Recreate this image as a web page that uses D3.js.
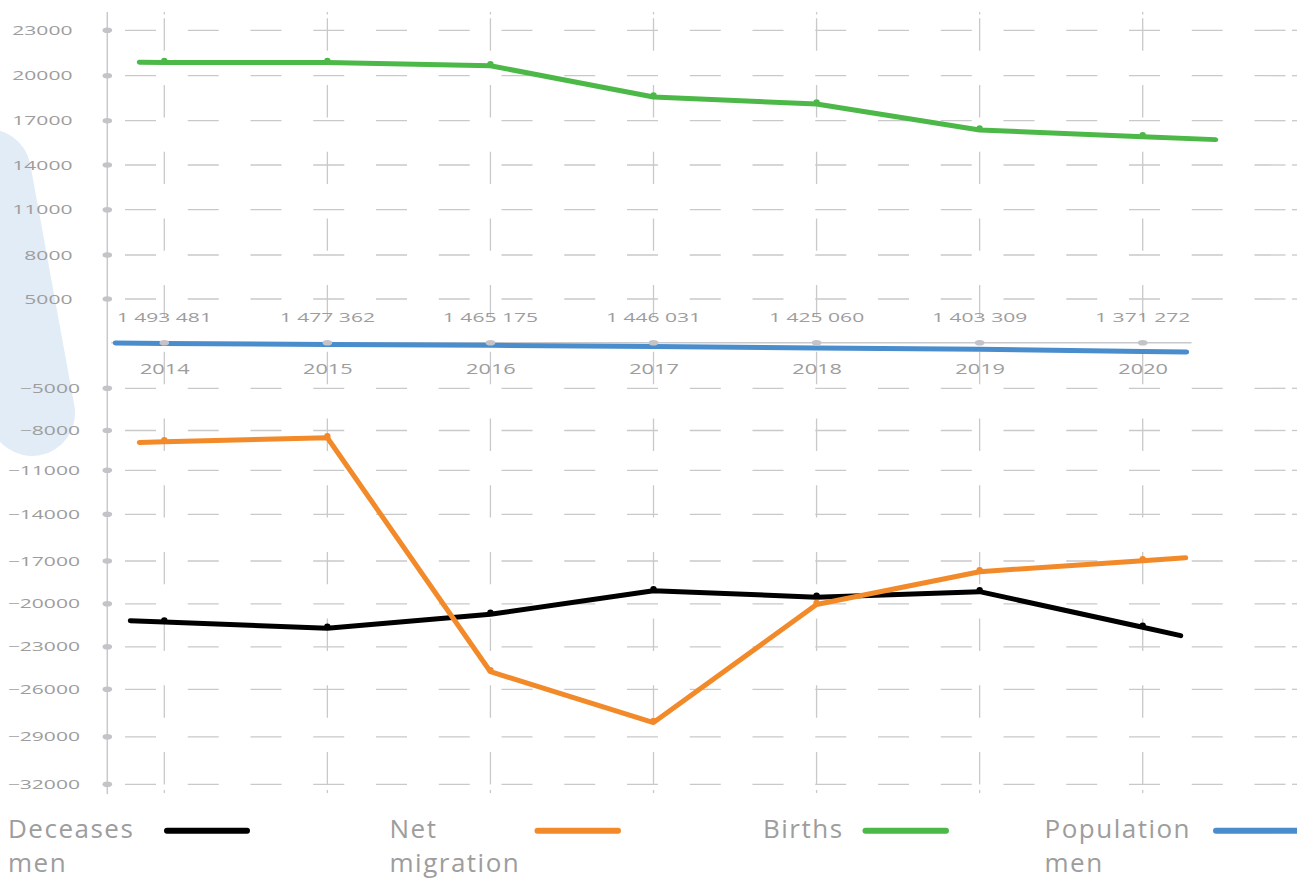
<!DOCTYPE html>
<html><head><meta charset="utf-8">
<script src="https://cdn.jsdelivr.net/npm/d3@7"></script>
<style>
body{margin:0;background:#fff}
svg{display:block}
text{font-family:'Open Sans',sans-serif}
</style>
</head><body><svg id="chart" width="1297" height="879"></svg>
<script>
// ---------- data ----------
const years = [2014, 2015, 2016, 2017, 2018, 2019, 2020];
const births = [20880, 20870, 20660, 18580, 18110, 16370, 15920];
const netMigration = [-8850, -8550, -24760, -28100, -20050, -17750, -16980];
const deceasesMen = [-21270, -21700, -20730, -19080, -19540, -19150, -21640];
const populationMen = [1493481, 1477362, 1465175, 1446031, 1425060, 1403309, 1371272];
const upperTicks = [23000, 20000, 17000, 14000, 11000, 8000, 5000];
const lowerTicks = [-5000, -8000, -11000, -14000, -17000, -20000, -23000, -26000, -29000, -32000];
const seriesNames = ["Deceases men", "Net migration", "Births", "Population men"];
const legendLines = [["Deceases", "men"], ["Net", "migration"], ["Births"], ["Population", "men"]];

// ---------- layout / style ----------
const W = 1297, H = 879;
const axisX = 107.3;
const tickYs = [30.3, 75.7, 120.7, 165, 209.7, 255, 299,
                388.3, 430.5, 470.3, 514.3, 561, 603.8, 646.8, 689.3, 736.8, 784.3];
const colors = {dec: "#000000", mig: "#f28a2a", births: "#4cb848", pop: "#4a8dcd"};
const grey = "#c9c9cc", textGrey = "#9d9d9d";
const ext = {births: [25, 73], mig: [25, 43], dec: [34, 38], pop: [49, 44]};
const legendPos = [
  {tx: 8, s0: 167, s1: 247},
  {tx: 389.5, s0: 537.5, s1: 618},
  {tx: 763, s0: 865.5, s1: 946},
  {tx: 1044.5, s0: 1216, s1: 1305}
];
const legendColors = [colors.dec, colors.mig, colors.births, colors.pop];

const svg = d3.select("#chart");
svg.append("rect").attr("width", W).attr("height", H).attr("fill", "#fff");

// decorative pale blue blob
svg.append("line").attr("x1", -12).attr("y1", 172).attr("x2", 32).attr("y2", 413)
  .attr("stroke", "#e2ecf6").attr("stroke-width", 86).attr("stroke-linecap", "round");

// ---------- scales ----------
const x = d3.scaleLinear().domain([years[0], years[years.length - 1]]).range([164.3, 1142.7]);
const y = d3.scaleLinear().domain(upperTicks.concat(lowerTicks)).range(tickYs);
const yPop = d3.scaleLinear().domain([d3.max(populationMen), d3.min(populationMen)]).range([343.4, 351.4]);
const allTicks = upperTicks.concat(lowerTicks);

// ---------- grid ----------
const grid = svg.append("g");
grid.selectAll("line.h").data(allTicks).join("line")
  .attr("x1", 125).attr("x2", 1290).attr("y1", d => y(d)).attr("y2", d => y(d))
  .attr("stroke", grey).attr("stroke-width", 1.3).attr("stroke-dasharray", "31 31.75");
grid.selectAll("line.r").data(allTicks).join("line")
  .attr("x1", 1292).attr("x2", 1297).attr("y1", d => y(d)).attr("y2", d => y(d))
  .attr("stroke", grey).attr("stroke-width", 1.3);
grid.selectAll("line.v").data(years).join("line")
  .attr("x1", d => x(d)).attr("x2", d => x(d)).attr("y1", 18.3).attr("y2", 790)
  .attr("stroke", grey).attr("stroke-width", 1.3).attr("stroke-dasharray", "32.4 34.3");
grid.selectAll("line.vt").data(years).join("line")
  .attr("x1", d => x(d)).attr("x2", d => x(d)).attr("y1", 12).attr("y2", 14.5)
  .attr("stroke", grey).attr("stroke-width", 1.3);
grid.selectAll("line.vb").data(years).join("line")
  .attr("x1", d => x(d)).attr("x2", d => x(d)).attr("y1", 790).attr("y2", 793)
  .attr("stroke", grey).attr("stroke-width", 1.3);

// ---------- left axis ----------
const ax = svg.append("g");
ax.append("line").attr("x1", axisX).attr("x2", axisX).attr("y1", 12).attr("y2", 794)
  .attr("stroke", grey).attr("stroke-width", 1.5);
ax.selectAll("ellipse").data(allTicks).join("ellipse")
  .attr("cx", axisX).attr("cy", d => y(d)).attr("rx", 4.8).attr("ry", 2.8).attr("fill", "#c4c4c8");
ax.selectAll("g.lbl").data(allTicks).join("g")
  .attr("transform", d => `translate(${d < 0 ? 80 : 72.5},${y(d) + 4.6}) scale(1.62,1)`)
  .append("text").attr("text-anchor", "end").attr("font-size", 13).attr("fill", textGrey)
  .text(d => d3.format("")(d));

// ---------- population band ----------
svg.append("line").attr("x1", axisX + 4).attr("x2", 1191.5).attr("y1", 342.7).attr("y2", 342.7)
  .attr("stroke", grey).attr("stroke-width", 1.5);

function extended(vals, yf, e) {
  const pts = vals.map((v, i) => [x(years[i]), yf(v)]);
  const n = pts.length;
  const dx0 = pts[1][0] - pts[0][0], dy0 = pts[1][1] - pts[0][1];
  const dx1 = pts[n - 1][0] - pts[n - 2][0], dy1 = pts[n - 1][1] - pts[n - 2][1];
  const start = [pts[0][0] - e[0], pts[0][1] - dy0 * e[0] / dx0];
  const end = [pts[n - 1][0] + e[1], pts[n - 1][1] + dy1 * e[1] / dx1];
  return [start].concat(pts, [end]);
}
const lineGen = d3.line();

svg.append("path").attr("d", lineGen(extended(populationMen, yPop, ext.pop)))
  .attr("fill", "none").attr("stroke", colors.pop).attr("stroke-width", 5)
  .attr("stroke-linecap", "round").attr("stroke-linejoin", "round");
svg.selectAll("ellipse.pd").data(years).join("ellipse")
  .attr("cx", d => x(d)).attr("cy", 342.7).attr("rx", 4.8).attr("ry", 2.8).attr("fill", "#c4c4c8");

svg.selectAll("g.plbl").data(populationMen).join("g")
  .attr("transform", (d, i) => `translate(${x(years[i])},${321.6}) scale(1.62,1)`)
  .append("text").attr("text-anchor", "middle").attr("font-size", 13).attr("fill", textGrey)
  .text(d => d3.format(",")(d).replace(/,/g, " "));
svg.selectAll("g.ylbl").data(years).join("g")
  .attr("transform", d => `translate(${x(d) + 0.5},${374}) scale(1.45,1)`)
  .append("text").attr("text-anchor", "middle").attr("font-size", 15).attr("fill", textGrey)
  .text(d => d);

// ---------- series ----------
const series = [
  {vals: births, c: colors.births, e: ext.births},
  {vals: deceasesMen, c: colors.dec, e: ext.dec},
  {vals: netMigration, c: colors.mig, e: ext.mig}
];
series.forEach(s => {
  svg.append("path").attr("d", lineGen(extended(s.vals, y, s.e)))
    .attr("fill", "none").attr("stroke", s.c).attr("stroke-width", 5)
    .attr("stroke-linecap", "round").attr("stroke-linejoin", "round");
  svg.append("g").selectAll("circle").data(s.vals).join("circle")
    .attr("cx", (d, i) => x(years[i])).attr("cy", d => y(d) - 1.5).attr("r", 3.2).attr("fill", s.c);
});

// ---------- legend ----------
const lg = svg.append("g");
legendLines.forEach((lines, i) => {
  const p = legendPos[i];
  const t = lg.append("text").attr("x", p.tx).attr("y", 838).attr("font-size", 26)
    .attr("fill", textGrey).attr("letter-spacing", 1.5);
  lines.forEach((ln, j) => {
    t.append("tspan").attr("x", p.tx).attr("dy", j === 0 ? 0 : 34).text(ln);
  });
  lg.append("line").attr("x1", p.s0).attr("x2", p.s1).attr("y1", 830.7).attr("y2", 830.7)
    .attr("stroke", legendColors[i]).attr("stroke-width", 6).attr("stroke-linecap", "round");
});
</script>
</body></html>
